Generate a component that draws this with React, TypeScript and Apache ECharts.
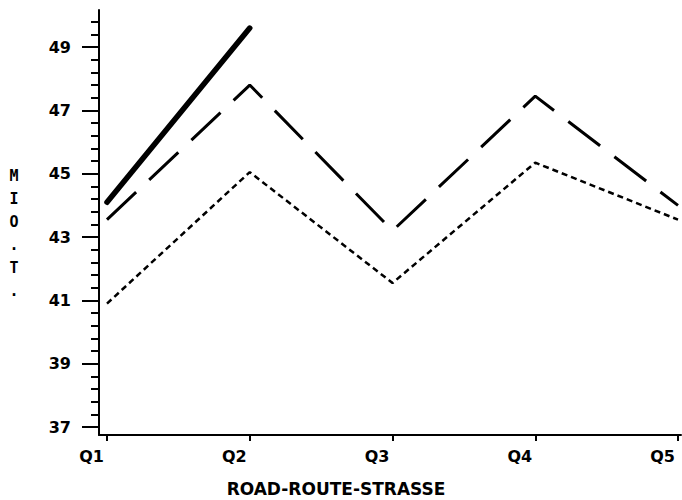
import React, { useEffect, useRef } from "react";
import * as echarts from "echarts";

const categories = ["Q1", "Q2", "Q3", "Q4", "Q5"];
const seriesThick = [44.1, 49.6, null, null, null];
const seriesDashed = [43.55, 47.8, 43.2, 47.45, 44.0];
const seriesDotted = [40.9, 45.05, 41.55, 45.35, 43.55];
const yMajorTicks = [37, 39, 41, 43, 45, 47, 49];
const yMinorTicks = [
  37.4, 37.8, 38.2, 38.6, 39.4, 39.8, 40.2, 40.6, 41.4, 41.8, 42.2, 42.6,
  43.4, 43.8, 44.2, 44.6, 45.4, 45.8, 46.2, 46.6, 47.4, 47.8, 48.2, 48.6,
  49.4, 49.8,
];
const yTitle = "M\nI\nO\n.\nT\n.";
const xTitle = "ROAD-ROUTE-STRASSE";

const MONO = '"DejaVu Sans Mono", monospace';
const SANS = '"DejaVu Sans", sans-serif';
const Y_MIN = 36.75;
const Y_MAX = 50.17;

function toPairs(arr: (number | null)[]) {
  return arr.map((v, i) => [i, v]);
}

export default function App() {
  const ref = useRef<HTMLDivElement>(null);
  useEffect(() => {
    if (!ref.current) return;
    const chart = echarts.init(ref.current, null, { renderer: "svg" });
    const catIdx = categories.map((_, i) => i);
    chart.setOption({
      animation: false,
      backgroundColor: "#fff",
      grid: { left: 99, right: 1, top: 10, bottom: 65, containLabel: false },
      xAxis: {
        type: "value",
        min: -0.056,
        max: 4.021,
        splitLine: { show: false },
        axisLine: {
          show: true,
          onZero: false,
          lineStyle: { color: "#000", width: 2 },
        },
        axisTick: {
          show: true,
          customValues: catIdx,
          length: 6,
          lineStyle: { color: "#000", width: 2 },
        },
        axisLabel: {
          customValues: catIdx,
          formatter: (v: number) => categories[Math.round(v)] ?? "",
          align: "right",
          padding: [0, 3, 0, 0],
          margin: 13,
          color: "#000",
          fontFamily: SANS,
          fontWeight: "bold",
          fontSize: 16,
        },
      },
      yAxis: [
        {
          type: "value",
          min: Y_MIN,
          max: Y_MAX,
          position: "left",
          splitLine: { show: false },
          axisLine: {
            show: true,
            onZero: false,
            lineStyle: { color: "#000", width: 2 },
          },
          axisTick: {
            show: true,
            customValues: yMajorTicks,
            length: 17,
            lineStyle: { color: "#000", width: 2 },
          },
          axisLabel: {
            customValues: yMajorTicks,
            margin: 28,
            color: "#000",
            fontFamily: SANS,
            fontWeight: "bold",
            fontSize: 16,
          },
        },
        {
          type: "value",
          min: Y_MIN,
          max: Y_MAX,
          position: "left",
          offset: 0,
          splitLine: { show: false },
          axisLine: { show: false, onZero: false },
          axisTick: {
            show: true,
            customValues: yMinorTicks,
            length: 8,
            lineStyle: { color: "#000", width: 2 },
          },
          axisLabel: { show: false },
        },
      ],
      series: [
        {
          type: "line",
          data: toPairs(seriesThick),
          showSymbol: false,
          lineStyle: { color: "#000", width: 5.5, cap: "round" },
        },
        {
          type: "line",
          data: toPairs(seriesDashed),
          showSymbol: false,
          lineStyle: { color: "#000", width: 3, type: [40, 18] },
        },
        {
          type: "line",
          data: toPairs(seriesDotted),
          showSymbol: false,
          lineStyle: { color: "#000", width: 2.5, type: [6, 4] },
        },
      ],
      graphic: [
        {
          type: "text",
          x: 14,
          y: 164,
          style: {
            text: yTitle,
            font: `bold 15px ${MONO}`,
            fill: "#000",
            align: "center",
            textAlign: "center",
            verticalAlign: "top",
            lineHeight: 23,
          },
        },
        {
          type: "text",
          x: 336,
          y: 489,
          style: {
            text: xTitle,
            font: `bold 17px ${SANS}`,
            fill: "#000",
            align: "center",
            textAlign: "center",
            verticalAlign: "middle",
            textVerticalAlign: "middle",
          },
        },
      ],
    });
    return () => chart.dispose();
  }, []);
  return (
    <div
      ref={ref}
      style={{ position: "fixed", left: 0, top: 0, width: 682, height: 500 }}
    />
  );
}
